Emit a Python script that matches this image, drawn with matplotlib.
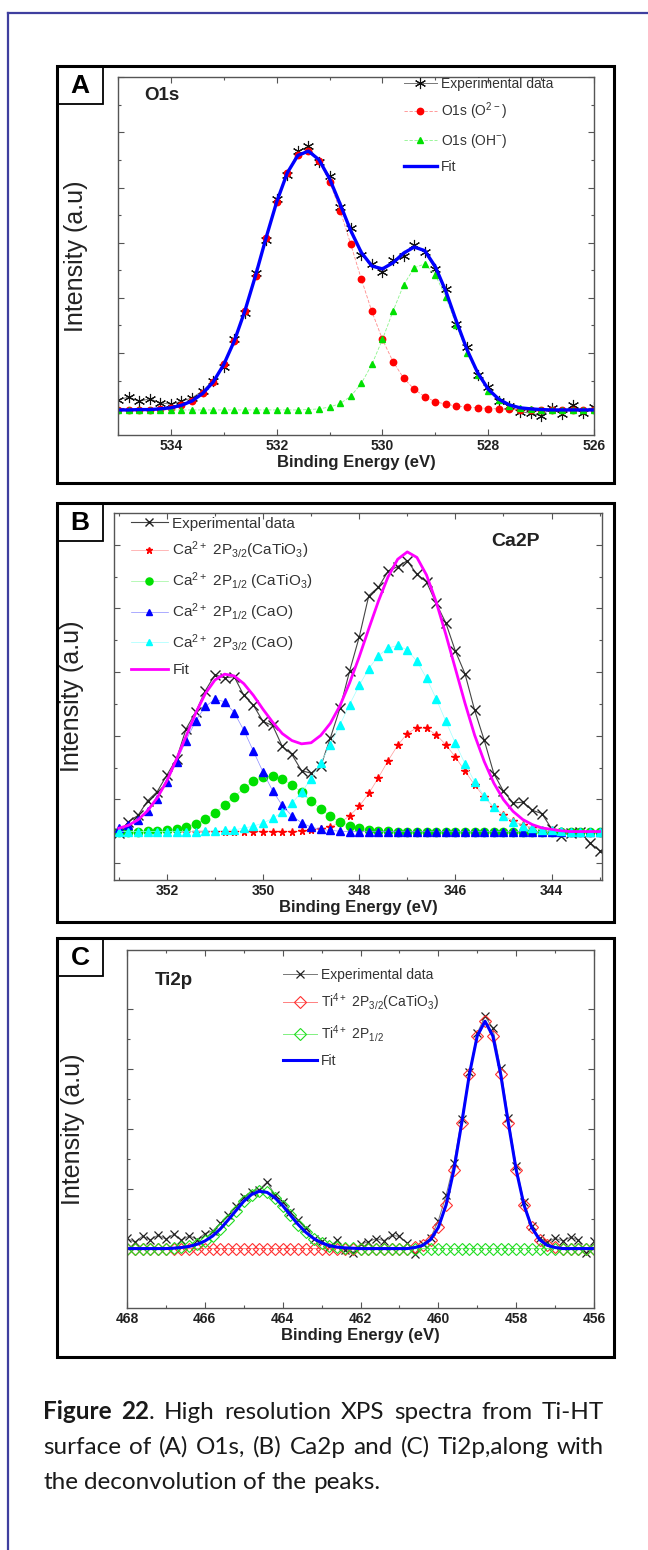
import numpy as np
import matplotlib
matplotlib.use('Agg')
import matplotlib.pyplot as plt
from matplotlib.patches import Rectangle
from matplotlib.lines import Line2D
from matplotlib.ticker import MultipleLocator

plt.rcParams['font.family'] = ['Liberation Sans', 'DejaVu Sans']
plt.rcParams['mathtext.default'] = 'regular'

# ---- O1s spectrum (binding energy 535 -> 526 eV, 0.2 eV steps)
o1s_energy = np.linspace(535.0, 526.0, 46)
o1s_exp = [9.8, 10.6, 9.4, 10.1, 9.0, 8.6, 9.4, 10.4, 12.3, 15.2,
           19.1, 26.9, 34.1, 45.3, 54.6, 65.8, 72.6, 79.2, 80.6, 76.2,
           72.4, 63.8, 57.9, 50.2, 47.9, 45.6, 48.8, 50.1, 53.2, 51.0,
           46.3, 40.9, 31.0, 24.5, 16.8, 13.3, 9.6, 8.1, 6.5, 6.1,
           5.4, 7.6, 5.8, 8.4, 6.2, 7.9]
o1s_o2 = [7.0, 7.0, 7.1, 7.1, 7.3, 7.6, 8.3, 9.5, 11.6, 14.8,
          19.7, 26.3, 34.7, 44.5, 55.1, 65.1, 73.2, 78.1, 79.2, 76.6,
          70.8, 62.7, 53.3, 43.6, 34.5, 26.7, 20.5, 15.9, 12.8, 10.7,
          9.3, 8.6, 8.1, 7.8, 7.6, 7.4, 7.3, 7.2, 7.1, 7.1,
          7.0, 7.0, 7.0, 7.0, 7.0, 7.0]
o1s_oh = [7.0] * 18 + [7.1, 7.3, 7.8, 8.8, 10.8, 14.4, 19.7, 26.7, 34.6, 41.9,
                       46.7, 47.8, 44.7, 38.5, 30.6, 23.0, 16.8, 12.4, 9.7, 8.2,
                       7.5, 7.2, 7.1] + [7.0] * 5
o1s_base = 7.0
o1s_ticks = [534, 532, 530, 528, 526]

# ---- Ca2p spectrum (353 -> 343 eV, 0.2 eV steps)
ca_energy = np.linspace(353.0, 343.0, 51)
ca_exp = [12.8, 15.9, 17.6, 21.6, 24.1, 28.6, 33.0, 41.2, 45.8, 51.6,
          55.9, 55.1, 55.4, 50.3, 47.6, 43.2, 42.1, 36.4, 34.2, 29.8,
          29.1, 31.0, 38.7, 46.8, 56.9, 66.2, 77.5, 79.8, 84.1, 85.4,
          87.0, 83.3, 81.2, 75.4, 70.1, 62.4, 56.2, 46.3, 38.1, 29.0,
          24.2, 21.0, 21.2, 19.0, 18.1, 14.0, 12.1, 12.9, 13.0, 10.1, 8.0]
ca_32_catio3 = [13.2] * 19 + [13.3, 13.5, 13.9, 14.5, 15.6, 17.5, 20.1, 23.6, 27.9, 32.5,
                              36.7, 39.9, 41.5, 41.3, 39.6, 36.9, 33.5, 29.7, 25.9, 22.6,
                              19.8, 17.6, 16.0, 14.9, 14.2, 13.7, 13.5, 13.3] + [13.2] * 4
ca_12_catio3 = [13.2, 13.2, 13.2, 13.3, 13.4, 13.5, 13.9, 14.4, 15.3, 16.6,
                18.3, 20.4, 22.7, 25.0, 26.9, 28.0, 28.3, 27.5, 26.0, 23.9,
                21.5, 19.3, 17.4, 15.9, 14.8, 14.1, 13.7, 13.4, 13.3] + [13.2] * 22
ca_12_cao = [14.1, 14.9, 16.4, 18.8, 22.2, 26.7, 32.2, 38.0, 43.4, 47.3,
             49.2, 48.6, 45.6, 40.8, 35.1, 29.4, 24.3, 20.3, 17.5, 15.6,
             14.4, 13.8, 13.5, 13.3] + [13.2] * 27
ca_32_cao = [13.2] * 9 + [13.3, 13.4, 13.5, 13.7, 14.1, 14.7, 15.5, 16.8, 18.5, 20.9,
                          23.9, 27.6, 32.0, 36.9, 42.3, 47.8, 53.0, 57.6, 61.1, 63.2,
                          63.9, 62.7, 59.6, 55.0, 49.4, 43.3, 37.3, 31.7, 26.8, 22.9,
                          19.8, 17.5, 15.9, 14.8, 14.1, 13.7, 13.5, 13.3] + [13.2] * 4
ca_base = 13.2
ca_ticks = [352, 350, 348, 346, 344]

# ---- Ti2p spectrum (468 -> 456 eV, 0.2 eV steps)
ti_energy = np.linspace(468.0, 456.0, 61)
ti_exp = [19.5, 18.4, 20.1, 19.0, 20.4, 19.2, 20.6, 18.9, 20.2, 19.1,
          20.8, 21.5, 23.7, 25.9, 28.4, 30.9, 32.4, 33.1, 35.2, 31.6,
          29.7, 26.8, 24.5, 22.3, 19.2, 18.6, 17.1, 18.9, 16.2, 15.4,
          17.8, 18.5, 19.4, 18.8, 20.3, 20.0, 18.1, 15.2, 17.9, 19.6,
          24.4, 31.5, 40.5, 52.8, 66.0, 76.8, 81.5, 78.2, 66.9, 53.0,
          39.6, 29.5, 22.9, 19.6, 18.4, 19.5, 18.7, 19.8, 18.9, 15.3, 18.6]
ti_32 = [16.6] * 37 + [16.9, 17.5, 19.1, 22.5, 28.8, 38.6, 51.6, 65.4, 76.0, 80.1,
                       76.0, 65.4, 51.6, 38.6, 28.8, 22.5, 19.1, 17.5, 16.9] + [16.6] * 5
ti_12 = [16.6] * 6 + [16.7, 16.9, 17.2, 17.8, 18.7, 20.1, 22.1, 24.6, 27.2, 29.8,
                      31.7, 32.6, 32.3, 30.8, 28.6, 25.9, 23.3, 21.1, 19.4, 18.2,
                      17.4, 17.0, 16.8, 16.7] + [16.6] * 31
ti_base = 16.6
ti_ticks = [468, 466, 464, 462, 460, 458, 456]

W, H = 648, 1550
fig = plt.figure(figsize=(W / 100, H / 100), dpi=100)


def px_axes(x0, y0, x1, y1):
    return fig.add_axes([x0 / W, 1 - y1 / H, (x1 - x0) / W, (y1 - y0) / H])


def px_box(x0, y0, x1, y1, lw):
    fig.add_artist(Rectangle((x0 / W, 1 - y1 / H), (x1 - x0) / W, (y1 - y0) / H,
                             transform=fig.transFigure, fill=False,
                             edgecolor='black', linewidth=lw))


def panel_frame(letter, top, bottom):
    px_box(57, top, 614, bottom, 2.2)
    px_box(57, top, 103, top + 38, 1.3)
    fig.text(80 / W, 1 - (top + 20) / H, letter, fontsize=19, fontweight='bold',
             ha='center', va='center')


def style_axes(ax, xlim, ticks, ymajor, ylab_x):
    ax.set_xlim(*xlim)
    ax.set_ylim(0, 100)
    ax.set_xticks(ticks, labels=[str(t) for t in ticks], fontweight='bold', fontsize=10)
    ax.xaxis.set_minor_locator(MultipleLocator(1))
    ax.set_yticks(ymajor)
    ax.set_yticks([v + (ymajor[1] - ymajor[0]) / 2 for v in ymajor[:-1]], minor=True)
    ax.tick_params(which='both', direction='in', top=True, right=True,
                   labelleft=False, color='#555555', labelcolor='#222222', width=0.8)
    ax.tick_params(which='major', length=4.5, pad=3)
    ax.tick_params(which='minor', length=2.5)
    for s in ax.spines.values():
        s.set_color('#555555')
        s.set_linewidth(1.0)
    ax.set_xlabel('Binding Energy (eV)', fontsize=12, fontweight='bold',
                  color='#222222', labelpad=1)
    ax.set_ylabel('Intensity (a.u)', fontsize=18, color='#222222')
    ax.yaxis.set_label_coords(ylab_x, 0.5)


# page border
border = '#3f3f9f'
fig.add_artist(Line2D([8 / W, 8 / W], [1 - 13 / H, 0], color=border, lw=1.6,
                      transform=fig.transFigure))
fig.add_artist(Line2D([8 / W, 1], [1 - 13 / H, 1 - 13 / H], color=border, lw=1.6,
                      transform=fig.transFigure))

# ---------------- (A) O1s
panel_frame('A', 66, 483)
ax = px_axes(118, 77, 594, 435)
o1s_fit = np.array(o1s_o2) + np.array(o1s_oh) - o1s_base
ax.plot(o1s_energy, o1s_exp, color='#777777', lw=0.7, marker=(6, 2, 0), ms=8,
        mec='#111111', mew=0.8, label='Experimental data')
ax.plot(o1s_energy, o1s_o2, color='#ff8a8a', lw=0.6, ls=(0, (4, 2)), marker='o',
        ms=4.6, mfc='red', mec='red', label='O1s (O$^{2-}$)')
ax.plot(o1s_energy, o1s_oh, color='#8af58a', lw=0.6, ls=(0, (4, 2)), marker='^',
        ms=5, mfc='#00e000', mec='#00e000', label='O1s (OH$^{-}$)')
ax.plot(o1s_energy, o1s_fit, color='#0000ff', lw=2.4, label='Fit')
style_axes(ax, (535, 526), o1s_ticks, [7.5 + 15.4 * k for k in range(7)], -0.063)
ax.text(0.056, 0.948, 'O1s', transform=ax.transAxes, fontsize=13.5,
        fontweight='bold', va='center', color='#222222')
ax.legend(loc='upper left', bbox_to_anchor=(0.6, 1.0), frameon=False, fontsize=10,
          handlelength=2.4, handletextpad=0.3, labelspacing=0.7, borderpad=0,
          borderaxespad=0, numpoints=1, labelcolor='#333333')

# ---------------- (B) Ca2p
panel_frame('B', 503, 922)
ax = px_axes(114, 513, 602, 880)
ca_fit = (np.array(ca_32_catio3) + np.array(ca_12_catio3) + np.array(ca_12_cao)
          + np.array(ca_32_cao) - 3 * ca_base)
ax.plot(ca_energy, ca_exp, color='#444444', lw=0.8, marker='x', ms=7,
        mec='#222222', mew=1.0, label='Experimental data')
ax.plot(ca_energy, ca_32_catio3, color='#ff9a9a', lw=0.5, marker='*', ms=5.5,
        mfc='red', mec='red', label='Ca$^{2+}$ 2P$_{3/2}$(CaTiO$_3$)')
ax.plot(ca_energy, ca_12_catio3, color='#9af59a', lw=0.5, marker='o', ms=6,
        mfc='#00e000', mec='#00e000', label='Ca$^{2+}$ 2P$_{1/2}$ (CaTiO$_3$)')
ax.plot(ca_energy, ca_12_cao, color='#8a8aff', lw=0.5, marker='^', ms=5.5,
        mfc='#0000ff', mec='#0000ff', label='Ca$^{2+}$ 2P$_{1/2}$ (CaO)')
ax.plot(ca_energy, ca_32_cao, color='#a0ffff', lw=0.5, marker='^', ms=5.5,
        mfc='#00ffff', mec='#00ffff', label='Ca$^{2+}$ 2P$_{3/2}$ (CaO)')
ax.plot(ca_energy, ca_fit, color='#ff00ff', lw=2.0, label='Fit')
style_axes(ax, (353.1, 342.95), ca_ticks, [4.6 + 17.35 * k for k in range(6)], -0.061)
ax.text(0.773, 0.922, 'Ca2P', transform=ax.transAxes, fontsize=14,
        fontweight='bold', va='center', color='#222222')
ax.legend(loc='upper left', bbox_to_anchor=(0.035, 0.99), frameon=False, fontsize=11,
          handlelength=2.4, handletextpad=0.3, labelspacing=0.6, borderpad=0,
          borderaxespad=0, numpoints=1, labelcolor='#333333', markerscale=0.85)

# ---------------- (C) Ti2p
panel_frame('C', 938, 1357)
ax = px_axes(127, 950, 594, 1308)
ti_fit = np.array(ti_32) + np.array(ti_12) - ti_base
ax.plot(ti_energy, ti_exp, color='#777777', lw=0.7, marker='x', ms=6,
        mec='#222222', mew=0.9, label='Experimental data')
ax.plot(ti_energy, ti_32, color='#ff8080', lw=0.7, marker='D', ms=6, mfc='none',
        mec='#ff3030', mew=0.8, label='Ti$^{4+}$ 2P$_{3/2}$(CaTiO$_3$)')
ax.plot(ti_energy, ti_12, color='#80f080', lw=0.7, marker='D', ms=6, mfc='none',
        mec='#20dd20', mew=0.8, label='Ti$^{4+}$ 2P$_{1/2}$')
ax.plot(ti_energy, ti_fit, color='#0000ff', lw=2.2, label='Fit')
style_axes(ax, (468, 456), ti_ticks, [ti_base + 16.75 * k for k in range(5)], -0.09)
ax.text(0.059, 0.916, 'Ti2p', transform=ax.transAxes, fontsize=13.5,
        fontweight='bold', va='center', color='#222222')
ax.legend(loc='upper left', bbox_to_anchor=(0.335, 0.95), frameon=False, fontsize=10,
          handlelength=2.4, handletextpad=0.3, labelspacing=0.7, borderpad=0,
          borderaxespad=0, numpoints=1, labelcolor='#333333')

# ---------------- caption
cap_family = ['Lato', 'DejaVu Sans']
cap_lines = [
    [[('Figure', 'bold')], [('22', 'bold'), ('.', 'normal')], [('High', 'normal')],
     [('resolution', 'normal')], [('XPS', 'normal')], [('spectra', 'normal')],
     [('from', 'normal')], [('Ti-HT', 'normal')]],
    [[(w, 'normal')] for w in 'surface of (A) O1s, (B) Ca2p and (C) Ti2p,along with'.split()],
    [[(w, 'normal')] for w in 'the deconvolution of the peaks.'.split()],
]
renderer = fig.canvas.get_renderer()


def text_width(s, size, weight='normal'):
    t = fig.text(0, 0, s, fontsize=size, fontweight=weight, family=cap_family)
    w = t.get_window_extent(renderer).width
    t.remove()
    return w


# scale the caption so the second line fills the text block width
x_left, x_right = 43, 604
probe = 10
natural = sum(text_width(p, probe) for word in cap_lines[1] for p, _ in word)
natural += text_width('a a', probe) - text_width('aa', probe)
natural += (len(cap_lines[1]) - 1) * (text_width('a a', probe) - text_width('aa', probe))
cap_size = probe * (x_right - x_left) / natural * 0.985

space_w = text_width('a a', cap_size) - text_width('aa', cap_size)
baselines = [1419, 1454, 1489]
for i, words in enumerate(cap_lines):
    items = []
    widths = []
    for word in words:
        parts = []
        ww = 0
        for piece, weight in word:
            t = fig.text(0, 1 - baselines[i] / H, piece, fontsize=cap_size,
                         fontweight=weight, family=cap_family, va='baseline',
                         ha='left', color='#1a1a1a')
            bw = t.get_window_extent(renderer).width
            parts.append((t, bw))
            ww += bw
        items.append(parts)
        widths.append(ww)
    if i < 2:
        gap = (x_right - x_left - sum(widths)) / (len(words) - 1)
    else:
        gap = space_w
    x = x_left
    for parts in items:
        for t, bw in parts:
            t.set_x(x / W)
            x += bw
        x += gap

fig.savefig('out.png', dpi=100)
